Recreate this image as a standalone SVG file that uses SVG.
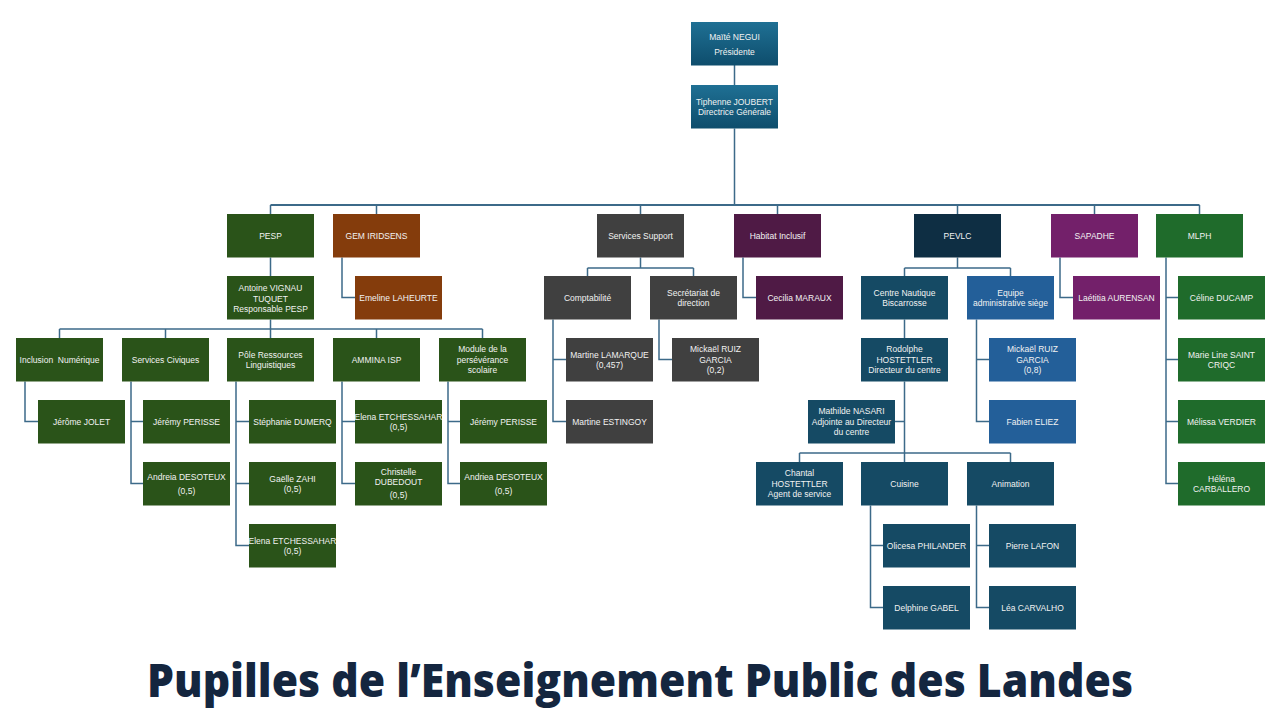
<svg xmlns="http://www.w3.org/2000/svg" width="1280" height="720" viewBox="0 0 1280 720">
<defs>
<linearGradient id="gTop" x1="0" y1="0" x2="0" y2="1">
<stop offset="0" stop-color="#1F7094"/>
<stop offset="1" stop-color="#0E4D6C"/>
</linearGradient>
<style>
rect{width:87px;height:43.5px}
.t{font-family:"Liberation Sans","Noto Sans",Arial,sans-serif;font-size:8.5px;fill:#F2F2F2;text-anchor:middle}
.top{fill:url(#gTop)}
.pesp{fill:#2A5319}
.gem{fill:#843C0C}
.sup{fill:#404040}
.hab{fill:#4F1A45}
.pev{fill:#0E2E43}
.cn{fill:#154A64}
.eq{fill:#235F99}
.sap{fill:#73206A}
.mlph{fill:#1F6B2B}
.c{fill:none;stroke:#3C6A89;stroke-width:1.5}
.title{font-family:"Open Sans","Noto Sans","Liberation Sans",sans-serif;font-weight:800;font-size:46px;fill:#14263F;text-anchor:middle}
</style>
</defs>
<rect width="1280" height="720" x="0" y="0" fill="#FFFFFF" style="width:1280px;height:720px"/>

<g id="connectors">
<path class="c" d="M734.5,65V85M734.5,128.5V205"/>
<path class="c" style="stroke-width:2" d="M270.5,205H1199.5"/>
<path class="c" d="M270.5,205V214M376.5,205V214M640.5,205V214M777.5,205V214M957.5,205V214M1094.5,205V214M1199.5,205V214"/>
<path class="c" d="M270.5,257.5V276M270.5,319.5V329M59.5,329H482.5M59.5,329V338M165.5,329V338M270.5,329V338M376.5,329V338M482.5,329V338"/>
<path class="c" d="M342,257.5V297.5H355"/>
<path class="c" d="M25,381.5V421.5H38"/>
<path class="c" d="M131,381.5V483.5H143M131,421.5H143"/>
<path class="c" d="M236,381.5V545.5H249M236,421.5H249M236,483.5H249"/>
<path class="c" d="M342,381.5V483.5H355M342,421.5H355"/>
<path class="c" d="M448,381.5V483.5H460M448,421.5H460"/>
<path class="c" d="M640.5,257.5V268M587.5,268H693.5M587.5,268V276M693.5,268V276"/>
<path class="c" d="M553,319.5V421.5H566M553,359.5H566"/>
<path class="c" d="M659,319.5V359.5H672"/>
<path class="c" d="M743,257.5V297.5H756"/>
<path class="c" d="M957.5,257.5V268M904.5,268H1010.5M904.5,268V276M1010.5,268V276"/>
<path class="c" d="M904.5,319.5V338M904.5,381.5V453M895,421.5H904.5M799.5,453H1010.5M799.5,453V462M904.5,453V462M1010.5,453V462"/>
<path class="c" d="M976.5,319.5V421.5H989M976.5,359.5H989"/>
<path class="c" d="M870.5,505.5V607.5H883M870.5,545.5H883"/>
<path class="c" d="M976.5,505.5V607.5H989M976.5,545.5H989"/>
<path class="c" d="M1060,257.5V297.5H1073"/>
<path class="c" d="M1166,257.5V483.5H1178M1166,297.5H1178M1166,359.5H1178M1166,421.5H1178"/>
</g>

<g id="negui"><rect class="top" x="691" y="22"/><text class="t" x="734.5"><tspan x="734.5" y="40">Maïté NEGUI</tspan><tspan x="734.5" y="54.5">Présidente</tspan></text></g>
<g id="joubert"><rect class="top" x="691" y="85"/><text class="t"><tspan x="734.5" y="104.5">Tiphenne JOUBERT</tspan><tspan x="734.5" y="115">Directrice Générale</tspan></text></g>

<g id="pesp"><rect class="pesp" x="227" y="214"/><text class="t" x="270.5" y="238.5">PESP</text></g>
<g id="gem"><rect class="gem" x="333" y="214"/><text class="t" x="376.5" y="238.5">GEM IRIDSENS</text></g>
<g id="support"><rect class="sup" x="597" y="214"/><text class="t" x="640.5" y="238.5">Services Support</text></g>
<g id="habitat"><rect class="hab" x="734" y="214"/><text class="t" x="777.5" y="238.5">Habitat Inclusif</text></g>
<g id="pevlc"><rect class="pev" x="914" y="214"/><text class="t" x="957.5" y="238.5">PEVLC</text></g>
<g id="sapadhe"><rect class="sap" x="1051" y="214"/><text class="t" x="1094.5" y="238.5">SAPADHE</text></g>
<g id="mlph"><rect class="mlph" x="1156" y="214"/><text class="t" x="1199.5" y="238.5">MLPH</text></g>

<g id="antoine"><rect class="pesp" x="227" y="276"/><text class="t"><tspan x="270.5" y="291">Antoine VIGNAU</tspan><tspan x="270.5" y="301.5">TUQUET</tspan><tspan x="270.5" y="312">Responsable PESP</tspan></text></g>
<g id="emeline"><rect class="gem" x="355" y="276"/><text class="t" x="398.5" y="300.5">Emeline LAHEURTE</text></g>
<g id="compta"><rect class="sup" x="544" y="276"/><text class="t" x="587.5" y="300.5">Comptabilité</text></g>
<g id="secretariat"><rect class="sup" x="650" y="276"/><text class="t"><tspan x="693.5" y="295.5">Secrétariat de</tspan><tspan x="693.5" y="306">direction</tspan></text></g>
<g id="cecilia"><rect class="hab" x="756" y="276"/><text class="t" x="799.5" y="300.5">Cecilia MARAUX</text></g>
<g id="centre-nautique"><rect class="cn" x="861" y="276"/><text class="t"><tspan x="904.5" y="295.5">Centre Nautique</tspan><tspan x="904.5" y="306">Biscarrosse</tspan></text></g>
<g id="equipe"><rect class="eq" x="967" y="276"/><text class="t"><tspan x="1010.5" y="295.5">Equipe</tspan><tspan x="1010.5" y="306">administrative siège</tspan></text></g>
<g id="laetitia"><rect class="sap" x="1073" y="276"/><text class="t" x="1116.5" y="300.5">Laétitia AURENSAN</text></g>
<g id="celine"><rect class="mlph" x="1178" y="276"/><text class="t" x="1221.5" y="300.5">Céline DUCAMP</text></g>

<g id="inclusion"><rect class="pesp" x="16" y="338"/><text class="t" x="59.5" y="362.5" xml:space="preserve">Inclusion  Numérique</text></g>
<g id="services-civiques"><rect class="pesp" x="122" y="338"/><text class="t" x="165.5" y="362.5">Services Civiques</text></g>
<g id="pole"><rect class="pesp" x="227" y="338"/><text class="t"><tspan x="270.5" y="357.5">Pôle Ressources</tspan><tspan x="270.5" y="368">Linguistiques</tspan></text></g>
<g id="ammina"><rect class="pesp" x="333" y="338"/><text class="t" x="376.5" y="362.5">AMMINA ISP</text></g>
<g id="module"><rect class="pesp" x="439" y="338"/><text class="t"><tspan x="482.5" y="352">Module de la</tspan><tspan x="482.5" y="362.5">persévérance</tspan><tspan x="482.5" y="373">scolaire</tspan></text></g>
<g id="lamarque"><rect class="sup" x="566" y="338"/><text class="t"><tspan x="609.5" y="357.5">Martine LAMARQUE</tspan><tspan x="609.5" y="368">(0,457)</tspan></text></g>
<g id="ruiz-1"><rect class="sup" x="672" y="338"/><text class="t"><tspan x="715.5" y="352">Mickaël RUIZ</tspan><tspan x="715.5" y="362.5">GARCIA</tspan><tspan x="715.5" y="373">(0,2)</tspan></text></g>
<g id="rodolphe"><rect class="cn" x="861" y="338"/><text class="t"><tspan x="904.5" y="352">Rodolphe</tspan><tspan x="904.5" y="362.5">HOSTETTLER</tspan><tspan x="904.5" y="373">Directeur du centre</tspan></text></g>
<g id="ruiz-2"><rect class="eq" x="989" y="338"/><text class="t"><tspan x="1032.5" y="352">Mickaël RUIZ</tspan><tspan x="1032.5" y="362.5">GARCIA</tspan><tspan x="1032.5" y="373">(0,8)</tspan></text></g>
<g id="marie-line"><rect class="mlph" x="1178" y="338"/><text class="t"><tspan x="1221.5" y="357.5">Marie Line SAINT</tspan><tspan x="1221.5" y="368">CRIQC</tspan></text></g>

<g id="jolet"><rect class="pesp" x="38" y="400"/><text class="t" x="81.5" y="424.5">Jérôme JOLET</text></g>
<g id="perisse-1"><rect class="pesp" x="143" y="400"/><text class="t" x="186.5" y="424.5">Jérémy PERISSE</text></g>
<g id="dumerq"><rect class="pesp" x="249" y="400"/><text class="t" x="292.5" y="424.5">Stéphanie DUMERQ</text></g>
<g id="etchessahar-1"><rect class="pesp" x="355" y="400"/><text class="t"><tspan x="398.5" y="419.5">Elena ETCHESSAHAR</tspan><tspan x="398.5" y="430">(0,5)</tspan></text></g>
<g id="perisse-2"><rect class="pesp" x="460" y="400"/><text class="t" x="503.5" y="424.5">Jérémy PERISSE</text></g>
<g id="estingoy"><rect class="sup" x="566" y="400"/><text class="t" x="609.5" y="424.5">Martine ESTINGOY</text></g>
<g id="nasari"><rect class="cn" x="808" y="400"/><text class="t"><tspan x="851.5" y="414">Mathilde NASARI</tspan><tspan x="851.5" y="424.5">Adjointe au Directeur</tspan><tspan x="851.5" y="435">du centre</tspan></text></g>
<g id="eliez"><rect class="eq" x="989" y="400"/><text class="t" x="1032.5" y="424.5">Fabien ELIEZ</text></g>
<g id="verdier"><rect class="mlph" x="1178" y="400"/><text class="t" x="1221.5" y="424.5">Mélissa VERDIER</text></g>

<g id="desoteux-1"><rect class="pesp" x="143" y="462"/><text class="t"><tspan x="186.5" y="479.5">Andreia DESOTEUX</tspan><tspan x="186.5" y="493.5">(0,5)</tspan></text></g>
<g id="zahi"><rect class="pesp" x="249" y="462"/><text class="t"><tspan x="292.5" y="481.5">Gaëlle ZAHI</tspan><tspan x="292.5" y="492">(0,5)</tspan></text></g>
<g id="dubedout"><rect class="pesp" x="355" y="462"/><text class="t"><tspan x="398.5" y="474.5">Christelle</tspan><tspan x="398.5" y="485">DUBEDOUT</tspan><tspan x="398.5" y="497.5">(0,5)</tspan></text></g>
<g id="desoteux-2"><rect class="pesp" x="460" y="462"/><text class="t"><tspan x="503.5" y="479.5">Andriea DESOTEUX</tspan><tspan x="503.5" y="493.5">(0,5)</tspan></text></g>
<g id="chantal"><rect class="cn" x="756" y="462"/><text class="t"><tspan x="799.5" y="476">Chantal</tspan><tspan x="799.5" y="486.5">HOSTETTLER</tspan><tspan x="799.5" y="497">Agent de service</tspan></text></g>
<g id="cuisine"><rect class="cn" x="861" y="462"/><text class="t" x="904.5" y="486.5">Cuisine</text></g>
<g id="animation"><rect class="cn" x="967" y="462"/><text class="t" x="1010.5" y="486.5">Animation</text></g>
<g id="carballero"><rect class="mlph" x="1178" y="462"/><text class="t"><tspan x="1221.5" y="481.5">Héléna</tspan><tspan x="1221.5" y="492">CARBALLERO</tspan></text></g>

<g id="etchessahar-2"><rect class="pesp" x="249" y="524"/><text class="t"><tspan x="292.5" y="543.5">Elena ETCHESSAHAR</tspan><tspan x="292.5" y="554">(0,5)</tspan></text></g>
<g id="philander"><rect class="cn" x="883" y="524"/><text class="t" x="926.5" y="548.5">Olicesa PHILANDER</text></g>
<g id="lafon"><rect class="cn" x="989" y="524"/><text class="t" x="1032.5" y="548.5">Pierre LAFON</text></g>

<g id="gabel"><rect class="cn" x="883" y="586"/><text class="t" x="926.5" y="610.5">Delphine GABEL</text></g>
<g id="carvalho"><rect class="cn" x="989" y="586"/><text class="t" x="1032.5" y="610.5">Léa CARVALHO</text></g>

<text class="title" x="640" y="697" textLength="986" lengthAdjust="spacingAndGlyphs">Pupilles de l’Enseignement Public des Landes</text>
</svg>
